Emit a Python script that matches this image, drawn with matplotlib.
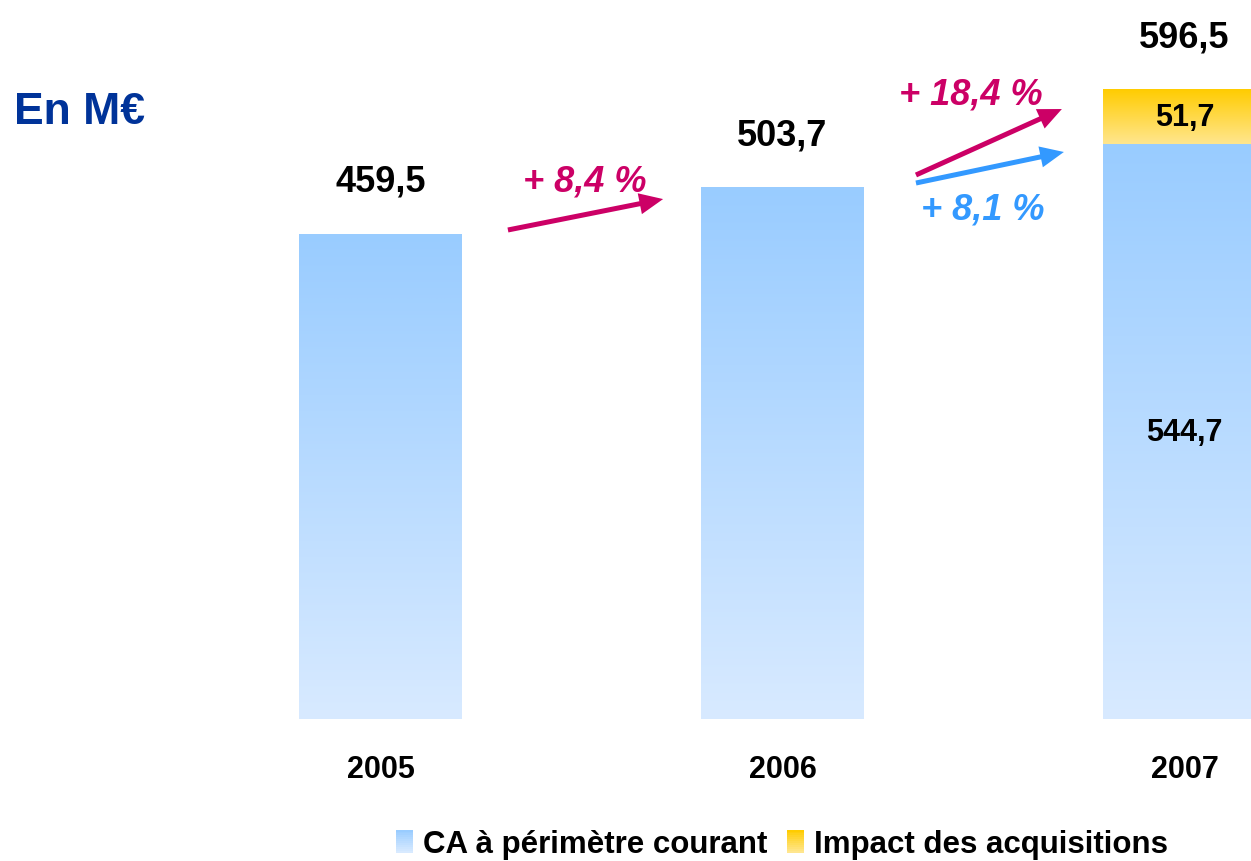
import numpy as np
import matplotlib
matplotlib.use("Agg")
import matplotlib.pyplot as plt
from matplotlib.colors import LinearSegmentedColormap
from matplotlib.patches import Rectangle, Patch
from matplotlib.legend_handler import HandlerBase

plt.rcParams['font.family'] = ['Liberation Sans', 'DejaVu Sans']

# ---- data ----
years = ['2005', '2006', '2007']
ca_courant = [459.5, 503.7, 544.7]
acquisitions = [0.0, 0.0, 51.7]
totals = [459.5, 503.7, 596.5]
ca_labels = ['', '', '544,7']
acq_labels = ['', '', '51,7']
total_labels = ['459,5', '503,7', '596,5']
legend_labels = ['CA à périmètre courant', 'Impact des acquisitions']
growth_labels = ['+ 8,4 %', '+ 18,4 %', '+ 8,1 %']

BLUE_TOP, BLUE_BOT = '#99CCFF', '#D8EAFF'
GOLD_TOP, GOLD_BOT = '#FFCC00', '#FFE68F'
MAGENTA = '#CC0066'
ARROW_BLUE = '#3399FF'
TITLE_BLUE = '#003399'

blue_cmap = LinearSegmentedColormap.from_list('b', [BLUE_BOT, BLUE_TOP])
gold_cmap = LinearSegmentedColormap.from_list('g', [GOLD_BOT, GOLD_TOP])

fig = plt.figure(figsize=(12.51, 8.62), dpi=100)
ax = fig.add_axes([0, 0, 1, 1])
ax.set_axis_off()

x = np.arange(len(years))
width = 0.403
grad = np.linspace(0, 1, 256).reshape(-1, 1)

def gradient_bars(bars, cmap):
    for b in bars:
        if b.get_height() <= 0:
            continue
        x0, y0 = b.get_x(), b.get_y()
        x1, y1 = x0 + b.get_width(), y0 + b.get_height()
        im = ax.imshow(grad, cmap=cmap, extent=(x0, x1, y0, y1),
                       origin='lower', aspect='auto', interpolation='bicubic', zorder=2)
        im.set_clip_path(b)

bars1 = ax.bar(x, ca_courant, width, color='none', edgecolor='none', zorder=1)
bars2 = ax.bar(x, acquisitions, width, bottom=ca_courant, color='none', edgecolor='none', zorder=1)
gradient_bars(bars1, blue_cmap)
gradient_bars(bars2, gold_cmap)

# value labels
for xi, v, lab in zip(x, ca_courant, ca_labels):
    if lab:
        ax.text(xi, v / 2, lab, ha='center', va='center', fontsize=22, fontweight='bold', zorder=5)
for xi, b, v, lab in zip(x, ca_courant, acquisitions, acq_labels):
    if lab:
        ax.text(xi, b + v / 2, lab, ha='center', va='center', fontsize=22, fontweight='bold', zorder=5)
for xi, t, lab in zip(x, totals, total_labels):
    ax.annotate(lab, (xi, t), xytext=(0, 38), textcoords='offset points',
                ha='center', va='center', fontsize=26, fontweight='bold', zorder=5)

# year labels
for xi, y in zip(x, years):
    ax.text(xi, -47, y, ha='center', va='center', fontsize=22, fontweight='bold')

# growth arrows
def arrow(start, end, color):
    ax.annotate('', xy=end, xytext=start,
                arrowprops=dict(arrowstyle='simple,head_length=0.95,head_width=0.85,tail_width=0.2',
                                mutation_scale=18, color=color, lw=0, shrinkA=0, shrinkB=0),
                zorder=4)

arrow((0.317, 463.3), (0.703, 492.6), MAGENTA)
arrow((1.332, 515.4), (1.695, 577.9), MAGENTA)
arrow((1.332, 507.8), (1.700, 537.2), ARROW_BLUE)

ax.text(0.509, 509.7, growth_labels[0], ha='center', va='center', fontsize=26,
        fontweight='bold', fontstyle='italic', color=MAGENTA)
ax.text(1.469, 592.0, growth_labels[1], ha='center', va='center', fontsize=26,
        fontweight='bold', fontstyle='italic', color=MAGENTA)
ax.text(1.499, 483.2, growth_labels[2], ha='center', va='center', fontsize=26,
        fontweight='bold', fontstyle='italic', color=ARROW_BLUE)

ax.set_xlim(-380.5 / 402, (1251 - 380.5) / 402)
ax.set_ylim(-142 / 1.0555, (862 - 142) / 1.0555)

fig.text(14 / 1251, 1 - 113 / 862, 'En M€', ha='left', va='center', fontsize=32,
         fontweight='bold', color=TITLE_BLUE)

# legend with gradient squares
class GradientHandler(HandlerBase):
    def __init__(self, top, bot, n=12):
        super().__init__()
        self.cmap = LinearSegmentedColormap.from_list('h', [bot, top])
        self.n = n

    def create_artists(self, legend, orig_handle, xdescent, ydescent, width, height, fontsize, trans):
        arts = []
        h = height / self.n
        for i in range(self.n):
            r = Rectangle((-xdescent, -ydescent + i * h), width, h * 1.05,
                          facecolor=self.cmap(i / (self.n - 1)), edgecolor='none', transform=trans)
            arts.append(r)
        return arts

h1 = Patch(facecolor=BLUE_TOP)
h2 = Patch(facecolor=GOLD_TOP)
fig.legend([h1, h2], legend_labels, loc='center', bbox_to_anchor=(782 / 1251, 1 - 845 / 862),
           ncol=2, frameon=False, prop=dict(size=22.5, weight='bold'),
           handlelength=0.55, handleheight=0.75, handletextpad=0.32, columnspacing=0.6,
           handler_map={h1: GradientHandler(BLUE_TOP, BLUE_BOT), h2: GradientHandler(GOLD_TOP, GOLD_BOT)})

fig.savefig('out.png', dpi=100)
